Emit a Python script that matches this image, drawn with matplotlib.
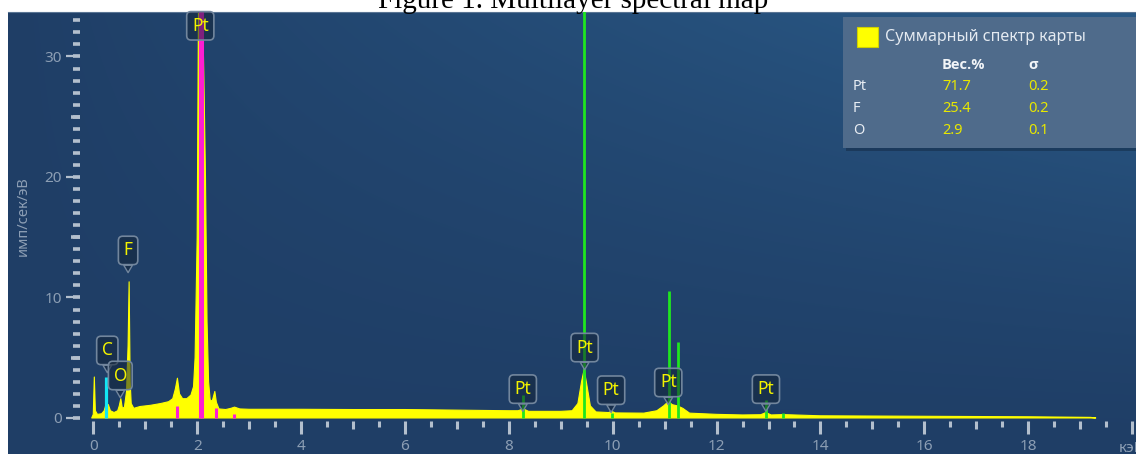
import numpy as np
import matplotlib.pyplot as plt
from matplotlib.ticker import FixedLocator, FuncFormatter
from matplotlib.patches import Rectangle

plt.rcParams['font.family'] = ['Noto Sans', 'DejaVu Sans']

# summed map spectrum (keV, imp/s/eV)
energy = [-0.03, 0.00, 0.02, 0.04, 0.08, 0.16, 0.21, 0.25, 0.29, 0.33, 0.40, 0.47,
          0.50, 0.53, 0.56, 0.60, 0.64, 0.67, 0.69, 0.71, 0.73, 0.78, 0.90, 1.10,
          1.30, 1.45, 1.53, 1.58, 1.62, 1.66, 1.72, 1.80, 1.88, 1.93, 1.96, 2.00,
          2.04, 2.07, 2.10, 2.13, 2.16, 2.19, 2.22, 2.25, 2.29, 2.34, 2.37, 2.42,
          2.55, 2.65, 2.72, 2.82, 3.0, 4.0, 5.0, 6.0, 7.0, 8.0, 8.18, 8.28, 8.38,
          9.0, 9.22, 9.33, 9.40, 9.45, 9.50, 9.57, 9.68, 9.92, 9.98, 10.05, 10.6,
          10.85, 10.98, 11.07, 11.15, 11.25, 11.35, 11.48, 12.0, 12.5, 12.85, 12.95,
          13.05, 13.28, 14.0, 16.0, 18.0, 19.2, 19.3]
counts = [0.0, 0.3, 3.4, 0.6, 0.3, 0.35, 0.6, 1.2, 1.1, 0.6, 0.45, 0.6,
          1.0, 1.6, 0.8, 0.9, 2.2, 6.0, 11.3, 3.0, 1.2, 0.8, 0.95, 1.05,
          1.2, 1.35, 1.6, 2.4, 3.3, 2.0, 1.6, 1.6, 1.9, 2.6, 5.0, 15.0,
          45.0, 45.0, 35.0, 28.0, 20.0, 8.0, 3.0, 1.5, 1.4, 2.2, 1.3, 0.75,
          0.7, 0.8, 0.9, 0.75, 0.72, 0.72, 0.7, 0.7, 0.65, 0.6, 0.6, 0.75, 0.55,
          0.55, 0.6, 1.2, 3.0, 4.0, 2.8, 1.0, 0.5, 0.45, 0.55, 0.42, 0.4,
          0.6, 1.0, 1.35, 1.1, 1.0, 0.8, 0.4, 0.3, 0.25, 0.27, 0.45,
          0.25, 0.28, 0.18, 0.14, 0.1, 0.05, 0.0]

# element line markers
c_lines = [0.24]
c_heights = [3.4]
pt_m_lines = [1.61, 2.05, 2.10, 2.36, 2.70]
pt_m_heights = [1.0, 40.0, 40.0, 0.8, 0.3]
pt_l_lines = [8.28, 9.45, 9.98, 11.08, 11.26, 12.95, 13.28]
pt_l_heights = [1.9, 40.0, 0.4, 10.5, 6.3, 1.5, 0.4]

# peak labels
peak_names = ['C', 'O', 'F', 'Pt', 'Pt', 'Pt', 'Pt', 'Pt', 'Pt']
peak_energy = [0.27, 0.52, 0.67, 2.06, 8.27, 9.46, 9.97, 11.07, 12.95]
peak_tip = [3.76, 1.68, 12.06, 30.7, 0.55, 4.0, 0.46, 1.1, 0.55]

# quantification table
tab_elements = ['Pt', 'F', 'O']
tab_wt = ['71.7', '25.4', '2.9']
tab_sigma = ['0.2', '0.2', '0.1']

W, H = 1136, 454
fig = plt.figure(figsize=(W / 100, H / 100), dpi=100)
ax = fig.add_axes([8 / W, 0, (W - 8) / W, (H - 12) / H])

# background gradient (dark navy, lighter toward top right)
gx, gy = np.meshgrid(np.linspace(0, 1, 300), np.linspace(0, 1, 150))
t = (gx ** 0.9) * (gy ** 1.3)
c0 = np.array([0x1f, 0x3e, 0x66]) / 255
c1 = np.array([0x2a, 0x5a, 0x87]) / 255
rgb = c0 + (c1 - c0) * t[..., None]
ax.imshow(rgb, extent=[0, 1, 0, 1], transform=ax.transAxes, aspect='auto',
          origin='lower', zorder=0, interpolation='bilinear')

ax.fill_between(energy, counts, 0, color='#ffff00', lw=0.8, zorder=2)
ax.vlines(c_lines, 0, c_heights, color='#12e6f5', lw=2.3, zorder=3)
ax.vlines(pt_m_lines, 0, pt_m_heights, color='#ff1ed2', lw=2.2, zorder=3)
ax.vlines(pt_l_lines, 0, pt_l_heights, color='#1fe61f', lw=2.0, zorder=3)

box_fc = (0.08, 0.14, 0.22, 0.55)
box_ec = '#72869d'
for name, e, tip in zip(peak_names, peak_energy, peak_tip):
    arrow = None
    if tip < 30:
        arrow = dict(arrowstyle='wedge,tail_width=0.5,shrink_factor=0.5',
                     fc=box_fc, ec=box_ec, lw=1.0, shrinkA=0, shrinkB=0)
    ax.annotate(name, xy=(e, tip), xytext=(0, 16), textcoords='offset points',
                ha='center', va='center', color='#f2f200', fontsize=12.5,
                bbox=dict(boxstyle='round,pad=0.3,rounding_size=0.25',
                          fc=box_fc, ec=box_ec, lw=1.2),
                arrowprops=arrow, zorder=6)

ax.set_xlim(-1.642, 20.075)
ax.set_ylim(-2.99, 33.69)

for s in ['left', 'bottom', 'right']:
    ax.spines[s].set_visible(False)
ax.spines['top'].set_color('#5a7594')
ax.spines['left'].set_position(('data', -0.256))
ax.spines['bottom'].set_position(('data', -0.25))

tick_c = '#b3bfcd'
lab_c = '#8c9eb4'

# x axis
ax.xaxis.set_major_locator(FixedLocator(np.arange(0, 21, 2)))
ax.xaxis.set_minor_locator(FixedLocator(np.arange(0.5, 20, 1.0)))
ax.xaxis.set_major_formatter(FuncFormatter(lambda v, p: '' if v > 19 else f'{v:.0f}'))
ax.tick_params(axis='x', which='major', direction='out', length=9.5, width=2.2,
               color=tick_c, labelcolor=lab_c, labelsize=11, pad=3.5)
ax.tick_params(axis='x', which='minor', direction='out', length=4, width=2.2,
               color=tick_c)
secx = ax.secondary_xaxis((-0.25 + 2.99) / 36.68)
secx.set_xticks(np.arange(1, 20, 2))
secx.tick_params(direction='out', length=6, width=2.2, color=tick_c,
                 labelbottom=False, labeltop=False)
for s in secx.spines.values():
    s.set_visible(False)

# y axis
ax.yaxis.remove_overlapping_locs = False
ax.yaxis.set_major_locator(FixedLocator([0, 10, 20, 30]))
ax.yaxis.set_minor_locator(FixedLocator(np.arange(0, 34, 1)))
ax.tick_params(axis='y', which='major', direction='out', length=10, width=1.6,
               color=tick_c, labelcolor=lab_c, labelsize=11, pad=3)
ax.tick_params(axis='y', which='minor', direction='out', length=5, width=2.6,
               color=tick_c)
secy = ax.secondary_yaxis((80 - 8) / (W - 8))
secy.set_yticks([5, 15, 25])
secy.tick_params(direction='out', length=6.8, width=2.6, color=tick_c,
                 labelleft=False, labelright=False)
for s in secy.spines.values():
    s.set_visible(False)

ax.set_xlabel('кэВ', color=lab_c, fontsize=11)
ax.xaxis.label.set_va('center')
ax.xaxis.set_label_coords((1132 - 8) / (W - 8), (H - 448) / (H - 12))
ax.set_ylabel('имп/сек/эВ', color=lab_c, fontsize=10.5)
ax.yaxis.label.set_va('center')
ax.yaxis.set_label_coords((23 - 8) / (W - 8), (H - 216) / (H - 12))


def px(x, y):
    return x / W, 1 - y / H


# quantification box
fig.patches.append(Rectangle(px(846, 151), 300 / W, 131 / H, transform=fig.transFigure,
                             fc='#0b1a2c', alpha=0.35, ec='none', zorder=1))
fig.patches.append(Rectangle(px(843, 148), 300 / W, 131 / H, transform=fig.transFigure,
                             fc='#4f6b8b', ec='none', zorder=1.5))
fig.patches.append(Rectangle(px(857, 47), 21 / W, 20 / H, transform=fig.transFigure,
                             fc='#ffff00', ec='#d0d000', lw=0.8, zorder=2))
fig.text(*px(885, 37), 'Суммарный спектр карты', color='#e4eaf1', fontsize=11.5,
         va='center', ha='left', zorder=3)
bold_fam = ['Open Sans', 'DejaVu Sans']
fig.text(*px(942, 65), 'Вес.%', color='#f2f5f8', fontsize=10.5, fontweight='bold',
         family=bold_fam, va='center', ha='left', zorder=3)
fig.text(*px(1028, 65), 'σ', color='#f2f5f8', fontsize=10.5, fontweight='bold',
         family=bold_fam, va='center', ha='left', zorder=3)
for i, (el, wt, sg) in enumerate(zip(tab_elements, tab_wt, tab_sigma)):
    y = 87 + i * 21.5
    fig.text(*px(853, y), el, color='#e8edf3', fontsize=10.5, va='center', zorder=3)
    fig.text(*px(942, y), wt, color='#e8e800', fontsize=10.5, va='center', zorder=3)
    fig.text(*px(1028, y), sg, color='#e8e800', fontsize=10.5, va='center', zorder=3)

fig.text(573 / W, 1 - 8.3 / H, 'Figure 1. Multilayer spectral map', ha='center',
         va='baseline', family='Liberation Serif', fontsize=21, color='black')

fig.savefig('out.png', dpi=100)
